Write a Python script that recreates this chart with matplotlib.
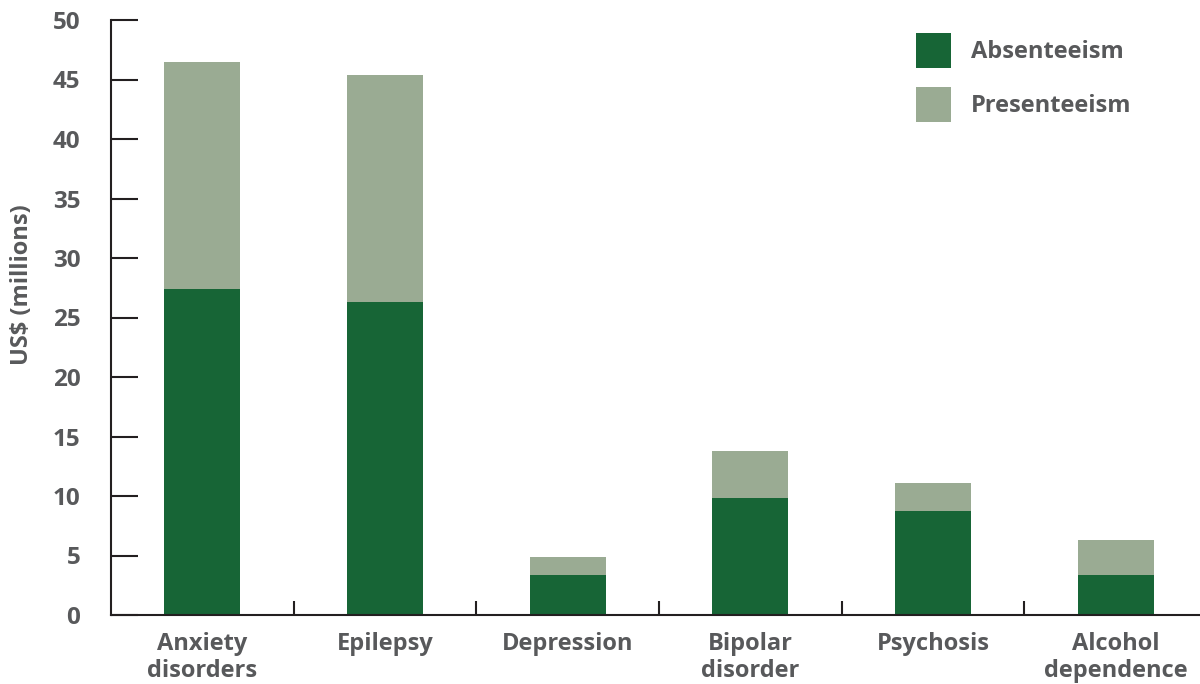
import matplotlib
matplotlib.use("Agg")
import matplotlib.pyplot as plt
import numpy as np

categories = ["Anxiety\ndisorders", "Epilepsy", "Depression", "Bipolar\ndisorder", "Psychosis", "Alcohol\ndependence"]
absenteeism = [27.4, 26.3, 3.4, 9.8, 8.7, 3.4]
totals = [46.5, 45.4, 4.9, 13.8, 11.1, 6.3]
presenteeism = [t - a for t, a in zip(totals, absenteeism)]
yticks = [0, 5, 10, 15, 20, 25, 30, 35, 40, 45, 50]

DARK = "#176536"
LIGHT = "#9aab93"
TXT = "#58595b"
FONT = "Open Sans"

plt.rcParams['font.family'] = [FONT, 'DejaVu Sans']
plt.rcParams['font.weight'] = 'bold'

fig = plt.figure(figsize=(12, 6.84), dpi=100)
W, H = 1200, 684
left, right, bottom, top = 111, 1207, 615, 20
ax = fig.add_axes([left / W, 1 - bottom / H, (right - left) / W, (bottom - top) / H])

x = np.arange(len(categories))
bw = 0.415
b1 = ax.bar(x, absenteeism, bw, color=DARK, label="Absenteeism", zorder=2)
b2 = ax.bar(x, presenteeism, bw, bottom=absenteeism, color=LIGHT, label="Presenteeism", zorder=2)

ax.set_xlim(-0.5, len(categories) - 0.5)
ax.set_ylim(0, 50)
ax.set_yticks(yticks)
ax.set_yticklabels([str(v) for v in yticks])
ax.set_xticks(x)
ax.set_xticklabels(categories, linespacing=1.2)
ax.set_xticks(np.arange(0.5, len(categories) - 0.5, 1), minor=True)

for s in ["top", "right"]:
    ax.spines[s].set_visible(False)
ax.spines["left"].set_color("#231f20")
ax.spines["left"].set_linewidth(1.5)
ax.spines["bottom"].set_color("#231f20")
ax.spines["bottom"].set_linewidth(1.5)

ax.tick_params(axis="y", direction="in", length=19.5, width=1.5, color="#231f20",
               pad=22, labelsize=17.5, labelcolor=TXT)
ax.tick_params(axis="x", which="major", length=0, pad=12, labelsize=17, labelcolor=TXT)
ax.tick_params(axis="x", which="minor", direction="in", length=10, width=1.5, color="#231f20")
for lab in ax.get_yticklabels() + ax.get_xticklabels():
    lab.set_fontweight("bold")

ax.set_ylabel("US$ (millions)", fontsize=17, color=TXT, fontweight="bold")
ax.yaxis.set_label_coords(-0.07, (615 - 285) / 595)

leg = fig.legend(handles=[b1, b2], loc="upper left", bbox_to_anchor=(916 / W, 1 - 33 / H),
                 frameon=False, fontsize=17, handlelength=1.48, handleheight=1.9,
                 handletextpad=0.85, labelspacing=0.8, borderpad=0, borderaxespad=0)
for t in leg.get_texts():
    t.set_color(TXT)
    t.set_fontweight("bold")

fig.savefig("out.png", dpi=100)
